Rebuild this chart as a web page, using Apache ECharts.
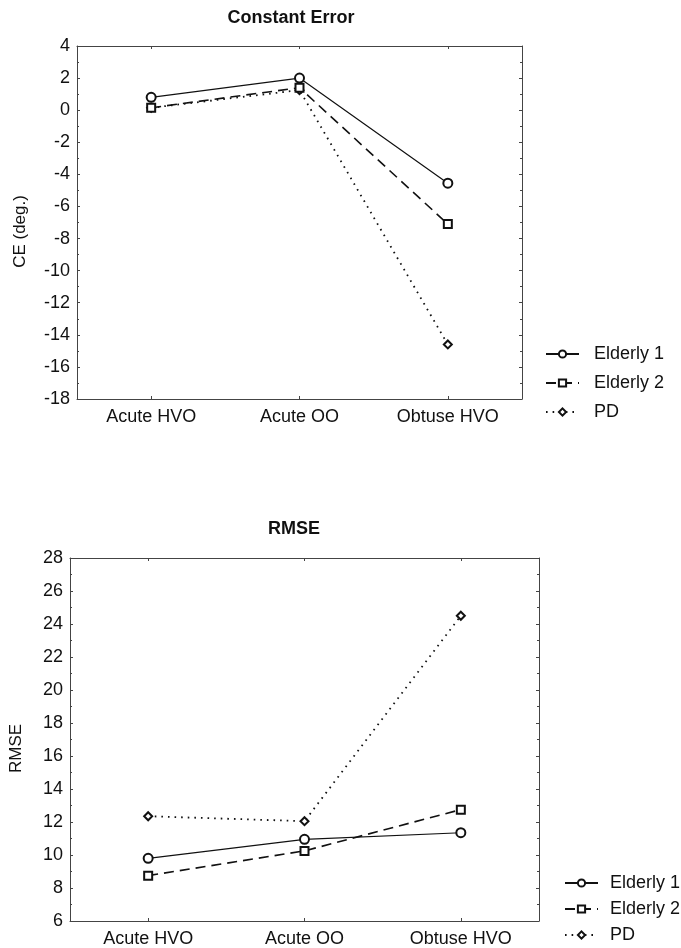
<!DOCTYPE html>
<html>
<head>
<meta charset="utf-8">
<script src="https://cdn.jsdelivr.net/npm/echarts@6/dist/echarts.min.js"></script>
<style>
  html, body { margin: 0; padding: 0; background: #ffffff; }
  #chart { width: 681px; height: 948px; }
</style>
</head>
<body>
<div id="chart"></div>
<script>
  // categories shared by both panels
  var categories = ['Acute HVO', 'Acute OO', 'Obtuse HVO']
  var seriesNames = ['Elderly 1', 'Elderly 2', 'PD']

  // Constant Error (deg.)
  var ceElderly1 = [0.8, 2.0, -4.55]
  var ceElderly2 = [0.15, 1.4, -7.1]
  var cePD = [0.15, 1.25, -14.6]

  // RMSE
  var rmseElderly1 = [9.8, 10.95, 11.35]
  var rmseElderly2 = [8.75, 10.25, 12.75]
  var rmsePD = [12.35, 12.05, 24.5]

  var font = '"Liberation Sans", Arial, sans-serif'
  var ink = '#111111'
  var frame = '#444444'

  var lineStyles = [
    {type: 'solid', width: 1.2},
    {type: [10, 6], width: 1.6},
    {type: [1.6, 5], width: 1.8}
  ]
  var symbols = ['emptyCircle', 'emptyRect', 'emptyDiamond']
  var symbolSizes = [9, 8, 8]

  function makeSeries (gridIdx, data) {
    return data.map(function (values, i) {
      return {
        name: seriesNames[i],
        type: 'line',
        xAxisIndex: gridIdx * 2,
        yAxisIndex: gridIdx * 2,
        data: values,
        symbol: symbols[i],
        symbolSize: symbolSizes[i],
        showSymbol: true,
        z: 10 - i,
        lineStyle: Object.assign({color: ink}, lineStyles[i]),
        itemStyle: {color: ink, borderWidth: 1}
      }
    })
  }

  function xAxes (gridIdx) {
    return [
      {
        type: 'category',
        gridIndex: gridIdx,
        data: categories,
        boundaryGap: true,
        axisLine: {onZero: false, lineStyle: {color: frame, width: 1}},
        axisTick: {show: true, inside: true, length: 3, alignWithLabel: true, lineStyle: {color: frame}},
        axisLabel: {color: ink, fontFamily: font, fontSize: 18, margin: 9}
      },
      {
        type: 'category',
        gridIndex: gridIdx,
        position: 'top',
        data: categories,
        boundaryGap: true,
        axisLine: {onZero: false, lineStyle: {color: frame, width: 1}},
        axisTick: {show: true, inside: true, length: 3, alignWithLabel: true, lineStyle: {color: frame}},
        axisLabel: {show: false}
      }
    ]
  }

  function yAxes (gridIdx, min, max, name, nameGap) {
    var common = {
      type: 'value',
      gridIndex: gridIdx,
      min: min,
      max: max,
      interval: 2,
      splitLine: {show: false},
      axisLine: {show: true, onZero: false, lineStyle: {color: frame, width: 1}},
      axisTick: {show: true, inside: true, length: 3, lineStyle: {color: frame}},
      minorTick: {show: true, splitNumber: 2, length: 2, lineStyle: {color: frame}}
    }
    return [
      Object.assign({}, common, {
        position: 'left',
        name: name,
        nameLocation: 'middle',
        nameGap: nameGap,
        nameTextStyle: {color: ink, fontFamily: font, fontSize: 17, padding: [0, 18, 0, 0]},
        axisLabel: {color: ink, fontFamily: font, fontSize: 18, margin: 7}
      }),
      Object.assign({}, common, {
        position: 'right',
        axisLabel: {show: false}
      })
    ]
  }

  var legendCommon = {
    orient: 'vertical',
    itemWidth: 33,
    itemHeight: 9,
    padding: 0,
    data: seriesNames,
    selectedMode: false,
    itemStyle: {borderWidth: 1},
    textStyle: {color: ink, fontFamily: font, fontSize: 18, lineHeight: 20}
  }

  var chart = echarts.init(document.getElementById('chart'), null, {renderer: 'canvas'})
  chart.setOption({
    backgroundColor: '#ffffff',
    animation: false,
    title: [
      {
        text: 'Constant Error',
        left: 286,
        top: 4,
        textAlign: 'center',
        textStyle: {color: ink, fontFamily: font, fontSize: 18, fontWeight: 'bold'}
      },
      {
        text: 'RMSE',
        left: 289,
        top: 515,
        textAlign: 'center',
        textStyle: {color: ink, fontFamily: font, fontSize: 18, fontWeight: 'bold'}
      }
    ],
    legend: [
      Object.assign({}, legendCommon, {
        left: 545,
        top: 344,
        itemGap: 9,
        textStyle: Object.assign({}, legendCommon.textStyle, {padding: [0, 0, 0, 10]})
      }),
      Object.assign({}, legendCommon, {
        left: 564,
        top: 873,
        itemGap: 6,
        textStyle: Object.assign({}, legendCommon.textStyle, {padding: [0, 0, 0, 7]})
      })
    ],
    grid: [
      {left: 77, top: 46, width: 445, height: 353},
      {left: 62, top: 558, width: 477, height: 365}
    ],
    xAxis: xAxes(0).concat(xAxes(1)),
    yAxis: yAxes(0, -18, 4, 'CE (deg.)', 48).concat(yAxes(1, 6, 28, 'RMSE', 45)),
    series: makeSeries(0, [ceElderly1, ceElderly2, cePD]).concat(makeSeries(1, [rmseElderly1, rmseElderly2, rmsePD]))
  })
</script>
</body>
</html>
